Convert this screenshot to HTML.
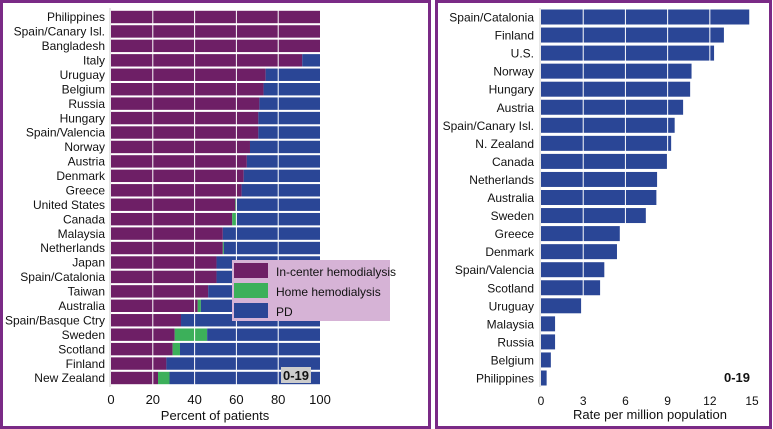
<!DOCTYPE html>
<html><head><meta charset="utf-8"><style>
html,body{margin:0;padding:0;background:#fff}
svg{display:block;font-family:"Liberation Sans",sans-serif}
</style></head><body>
<svg width="773" height="429" viewBox="0 0 773 429">
<rect x="1.5" y="1.5" width="428" height="426" fill="#fff" stroke="#7a2a86" stroke-width="3"/>
<rect x="436.5" y="1.5" width="334" height="426" fill="#fff" stroke="#7a2a86" stroke-width="3"/>
<g id="left"></g>
<g id="right"></g>
</svg>
<script>
const leftCountries=["Philippines","Spain/Canary Isl.","Bangladesh","Italy","Uruguay","Belgium","Russia","Hungary","Spain/Valencia","Norway","Austria","Denmark","Greece","United States","Canada","Malaysia","Netherlands","Japan","Spain/Catalonia","Taiwan","Australia","Spain/Basque Ctry","Sweden","Scotland","Finland","New Zealand"];
const inCenter=[100,100,100,91.5,74,73,71,70.5,70.5,66.5,65,63.5,62.5,59.5,58,53.5,53.5,50.5,50.5,46.5,41.5,33.5,30.5,29.5,26.5,22.5];
const homeHD=[0,0,0,0,0,0,0,0,0,0,0,0,0,0.5,2,0,0.5,0,0,0,1.5,0,15.5,3.5,0,5.5];
const leftTicks=[0,20,40,60,80,100];
const rightCountries=["Spain/Catalonia","Finland","U.S.","Norway","Hungary","Austria","Spain/Canary Isl.","N. Zealand","Canada","Netherlands","Australia","Sweden","Greece","Denmark","Spain/Valencia","Scotland","Uruguay","Malaysia","Russia","Belgium","Philippines"];
const rates=[14.8,13,12.3,10.7,10.6,10.1,9.5,9.25,8.95,8.25,8.2,7.45,5.6,5.4,4.5,4.2,2.85,1.0,1.0,0.7,0.4];
const rightTicks=[0,3,6,9,12,15];

const NS="http://www.w3.org/2000/svg";
function mk(parent,tag,attrs,text){const e=document.createElementNS(NS,tag);for(const k in attrs)e.setAttribute(k,attrs[k]);if(text!==undefined)e.textContent=text;parent.appendChild(e);return e;}
const PURPLE="#6e1f66",GREEN="#3cb05a",BLUE="#2a4696";

// Left chart
const L=document.getElementById('left');
const lx=v=>111+v*2.09;
const ly=i=>17+i*14.44;
leftCountries.forEach((c,i)=>{
  const y=ly(i)-6.2;
  const t=mk(L,'text',{x:105,y:ly(i)+4.2,'text-anchor':'end','font-size':12,fill:'#111'},c);
  
  
  const a=mk(L,'rect',{x:lx(0),y:y,width:lx(inCenter[i])-lx(0),height:12.4,fill:PURPLE});
  
  
  const b=mk(L,'rect',{x:lx(inCenter[i]),y:y,width:lx(inCenter[i]+homeHD[i])-lx(inCenter[i]),height:12.4,fill:GREEN});
  
  
  const p=mk(L,'rect',{x:lx(inCenter[i]+homeHD[i]),y:y,width:lx(100)-lx(inCenter[i]+homeHD[i]),height:12.4,fill:BLUE});
  
  
});
mk(L,'line',{x1:110,y1:8,x2:110,y2:387,stroke:'#ccc','stroke-width':1});
leftTicks.forEach(t=>{
  if(t>0&&t<100){const g=mk(L,'line',{x1:lx(t),y1:9,x2:lx(t),y2:386,stroke:'#fff','stroke-width':1});
  
  }
  const tl=mk(L,'text',{x:lx(t),y:404,'text-anchor':'middle','font-size':13,fill:'#111'},t);
  
  
});
const lt=mk(L,'text',{x:215,y:420,'text-anchor':'middle','font-size':13,fill:'#111'},'Percent of patients');


// legend
const lg=mk(L,'g',{});


mk(lg,'rect',{x:232,y:260,width:158,height:61,fill:'#d6b3d6'});
[["In-center hemodialysis",PURPLE],["Home hemodialysis",GREEN],["PD",BLUE]].forEach((e,i)=>{
  const g=mk(lg,'g',{});
  
  
  mk(g,'rect',{x:234,y:263+i*20,width:34,height:15,fill:e[1]});
  mk(g,'text',{x:276,y:276+i*20,'font-size':12,fill:'#111'},e[0]);
});
const ab=mk(L,'rect',{x:281,y:367,width:30,height:16,fill:'#ccc'});


const at=mk(L,'text',{x:296,y:380,'text-anchor':'middle','font-size':13,'font-weight':'bold',fill:'#111'},'0-19');



// Right chart
const R=document.getElementById('right');
const rx=v=>541+v*14.07;
const ry=i=>17+i*18.05;
rightCountries.forEach((c,i)=>{
  const t=mk(R,'text',{x:534,y:ry(i)+4.5,'text-anchor':'end','font-size':12,fill:'#111'},c);
  
  
  const b=mk(R,'rect',{x:rx(0),y:ry(i)-7.5,width:rx(rates[i])-rx(0),height:15,fill:BLUE});
  
  
});
mk(R,'line',{x1:540,y1:8,x2:540,y2:387,stroke:'#ccc','stroke-width':1});
rightTicks.forEach(t=>{
  if(t>0){const g=mk(R,'line',{x1:rx(t),y1:9,x2:rx(t),y2:386,stroke:'#fff','stroke-width':1});
  
  }
  const tl=mk(R,'text',{x:rx(t),y:405,'text-anchor':'middle','font-size':12,fill:'#111'},t);
  
  
});
const rt=mk(R,'text',{x:650,y:419,'text-anchor':'middle','font-size':13,fill:'#111'},'Rate per million population');


const rat=mk(R,'text',{x:737,y:382,'text-anchor':'middle','font-size':13,'font-weight':'bold',fill:'#111'},'0-19');


</script>
</body></html>
